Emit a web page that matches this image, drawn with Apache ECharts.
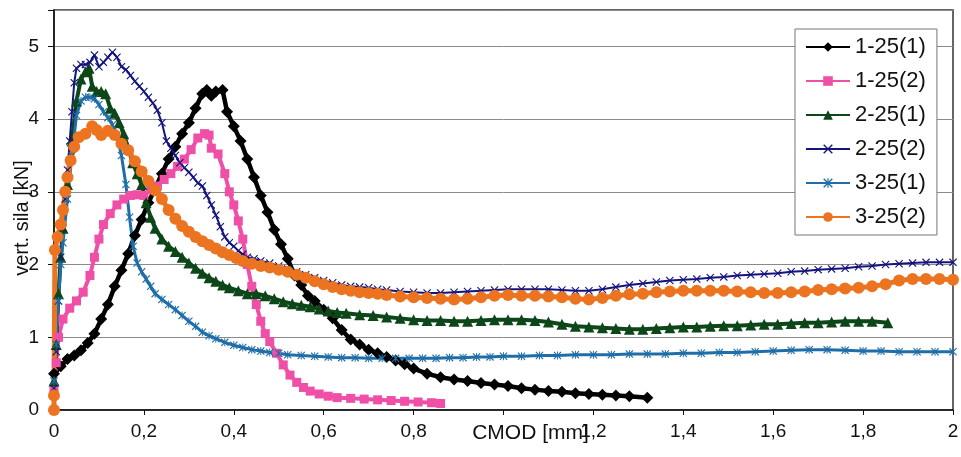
<!DOCTYPE html>
<html>
<head>
<meta charset="UTF-8">
<title>CMOD - vert. sila</title>
<script src="https://cdn.jsdelivr.net/npm/echarts@6/dist/echarts.min.js"></script>
<style>
  html, body, #chart { width: 100%; height: 100%; margin: 0; padding: 0; background: #fff; }
  body { overflow: hidden; }
</style>
</head>
<body>
<div id="chart"></div>
<script>
// series names (legend)
const seriesNames = ['1-25(1)', '1-25(2)', '2-25(1)', '2-25(2)', '3-25(1)', '3-25(2)'];

// [CMOD mm, force kN]
const s1_25_1 = [[0,0.5],[0.015,0.6],[0.03,0.7],[0.045,0.75],[0.06,0.82],[0.075,0.92],[0.09,1.05],[0.105,1.25],[0.12,1.45],[0.135,1.7],[0.15,1.92],[0.165,2.15],[0.18,2.4],[0.195,2.62],[0.21,2.85],[0.225,3.05],[0.24,3.25],[0.255,3.45],[0.27,3.62],[0.285,3.8],[0.3,3.95],[0.315,4.15],[0.33,4.35],[0.34,4.4],[0.35,4.32],[0.36,4.38],[0.375,4.4],[0.385,4.1],[0.4,3.9],[0.415,3.7],[0.43,3.45],[0.445,3.2],[0.46,2.95],[0.475,2.72],[0.49,2.48],[0.505,2.28],[0.52,2.08],[0.535,1.85],[0.55,1.72],[0.565,1.57],[0.58,1.5],[0.6,1.38],[0.62,1.26],[0.64,1.1],[0.66,0.97],[0.68,0.9],[0.7,0.83],[0.72,0.78],[0.74,0.73],[0.76,0.68],[0.78,0.63],[0.8,0.57],[0.83,0.5],[0.86,0.45],[0.89,0.42],[0.92,0.4],[0.95,0.37],[0.98,0.35],[1.01,0.33],[1.04,0.3],[1.07,0.28],[1.1,0.26],[1.13,0.25],[1.16,0.23],[1.19,0.22],[1.22,0.21],[1.25,0.2],[1.28,0.19],[1.32,0.17]];

const s1_25_2 = [[0,0.3],[0.005,0.65],[0.01,1.0],[0.02,1.25],[0.035,1.4],[0.05,1.5],[0.065,1.62],[0.08,1.85],[0.09,2.1],[0.1,2.35],[0.11,2.55],[0.125,2.7],[0.14,2.82],[0.155,2.9],[0.17,2.95],[0.185,2.96],[0.2,2.95],[0.215,3.03],[0.23,3.08],[0.245,3.17],[0.26,3.25],[0.275,3.35],[0.29,3.45],[0.305,3.58],[0.32,3.74],[0.335,3.8],[0.345,3.78],[0.35,3.6],[0.365,3.52],[0.38,3.25],[0.39,3.0],[0.4,2.82],[0.41,2.6],[0.42,2.35],[0.43,2.0],[0.44,1.7],[0.45,1.45],[0.46,1.22],[0.47,1.05],[0.48,0.94],[0.495,0.78],[0.51,0.62],[0.525,0.48],[0.54,0.38],[0.555,0.31],[0.57,0.26],[0.59,0.22],[0.61,0.19],[0.63,0.17],[0.66,0.16],[0.69,0.15],[0.72,0.14],[0.75,0.13],[0.78,0.12],[0.81,0.11],[0.84,0.1],[0.86,0.09]];

const s2_25_1 = [[0,0.4],[0.005,0.9],[0.01,1.6],[0.015,2.1],[0.02,2.5],[0.03,3.1],[0.04,3.7],[0.05,4.25],[0.06,4.55],[0.07,4.65],[0.078,4.7],[0.085,4.45],[0.095,4.38],[0.105,4.38],[0.115,4.35],[0.125,4.15],[0.135,4.08],[0.145,3.95],[0.155,3.8],[0.165,3.6],[0.175,3.4],[0.185,3.25],[0.195,3.1],[0.205,2.85],[0.215,2.65],[0.225,2.5],[0.24,2.35],[0.255,2.25],[0.27,2.18],[0.285,2.1],[0.3,2.02],[0.315,1.95],[0.33,1.88],[0.345,1.82],[0.36,1.77],[0.375,1.72],[0.39,1.68],[0.41,1.64],[0.43,1.6],[0.45,1.6],[0.47,1.57],[0.49,1.53],[0.51,1.49],[0.53,1.46],[0.55,1.44],[0.57,1.42],[0.59,1.39],[0.61,1.36],[0.63,1.34],[0.65,1.33],[0.68,1.31],[0.71,1.3],[0.74,1.28],[0.77,1.26],[0.8,1.24],[0.83,1.23],[0.86,1.23],[0.89,1.22],[0.92,1.22],[0.95,1.23],[0.98,1.24],[1.01,1.24],[1.04,1.24],[1.07,1.23],[1.1,1.21],[1.13,1.18],[1.16,1.15],[1.19,1.14],[1.22,1.13],[1.25,1.12],[1.28,1.11],[1.31,1.11],[1.34,1.12],[1.37,1.13],[1.4,1.14],[1.43,1.14],[1.46,1.15],[1.49,1.16],[1.52,1.16],[1.55,1.17],[1.58,1.18],[1.61,1.18],[1.64,1.19],[1.67,1.2],[1.7,1.2],[1.73,1.21],[1.76,1.22],[1.79,1.22],[1.82,1.22],[1.855,1.2]];

const s2_25_2 = [[0,0.3],[0.005,0.8],[0.01,1.5],[0.015,2.1],[0.02,2.5],[0.025,2.9],[0.03,3.3],[0.035,3.7],[0.04,4.1],[0.045,4.5],[0.05,4.7],[0.06,4.75],[0.07,4.75],[0.08,4.78],[0.09,4.88],[0.1,4.72],[0.11,4.78],[0.12,4.85],[0.13,4.92],[0.14,4.85],[0.15,4.72],[0.16,4.68],[0.17,4.6],[0.18,4.52],[0.19,4.45],[0.2,4.38],[0.21,4.3],[0.22,4.22],[0.23,4.12],[0.24,3.95],[0.25,3.7],[0.26,3.6],[0.27,3.5],[0.28,3.4],[0.29,3.33],[0.3,3.27],[0.31,3.2],[0.32,3.12],[0.33,3.08],[0.34,2.95],[0.35,2.82],[0.36,2.68],[0.37,2.52],[0.38,2.38],[0.39,2.3],[0.4,2.25],[0.41,2.19],[0.42,2.14],[0.43,2.1],[0.445,2.08],[0.46,2.05],[0.48,2.02],[0.5,1.98],[0.52,1.94],[0.54,1.9],[0.56,1.86],[0.58,1.82],[0.6,1.78],[0.62,1.75],[0.64,1.72],[0.66,1.7],[0.68,1.69],[0.7,1.68],[0.72,1.66],[0.74,1.65],[0.77,1.63],[0.8,1.62],[0.83,1.61],[0.86,1.61],[0.89,1.62],[0.92,1.63],[0.95,1.64],[0.98,1.65],[1.01,1.66],[1.04,1.66],[1.07,1.66],[1.1,1.66],[1.13,1.65],[1.16,1.64],[1.19,1.64],[1.22,1.66],[1.25,1.69],[1.28,1.72],[1.31,1.74],[1.34,1.76],[1.37,1.78],[1.4,1.79],[1.43,1.8],[1.46,1.82],[1.49,1.83],[1.52,1.85],[1.55,1.86],[1.58,1.87],[1.61,1.88],[1.64,1.9],[1.67,1.91],[1.7,1.93],[1.73,1.94],[1.76,1.95],[1.79,1.97],[1.82,1.98],[1.85,2.0],[1.88,2.01],[1.91,2.02],[1.94,2.03],[1.97,2.03],[2.0,2.03]];

const s3_25_1 = [[0,0.4],[0.005,0.9],[0.01,1.5],[0.015,2.0],[0.02,2.3],[0.03,2.9],[0.04,3.5],[0.05,4.05],[0.06,4.25],[0.07,4.3],[0.08,4.3],[0.09,4.28],[0.1,4.2],[0.11,4.1],[0.12,4.02],[0.13,3.92],[0.14,3.78],[0.15,3.5],[0.16,3.1],[0.168,2.65],[0.176,2.25],[0.185,2.02],[0.195,1.9],[0.205,1.8],[0.215,1.7],[0.225,1.6],[0.24,1.52],[0.255,1.45],[0.27,1.38],[0.285,1.3],[0.3,1.22],[0.315,1.15],[0.33,1.07],[0.345,1.02],[0.36,0.98],[0.38,0.93],[0.4,0.89],[0.42,0.86],[0.44,0.83],[0.46,0.81],[0.48,0.79],[0.5,0.78],[0.52,0.76],[0.55,0.75],[0.58,0.74],[0.61,0.73],[0.64,0.72],[0.67,0.72],[0.7,0.71],[0.73,0.71],[0.76,0.71],[0.79,0.71],[0.82,0.71],[0.85,0.71],[0.88,0.72],[0.91,0.72],[0.94,0.73],[0.97,0.73],[1.0,0.74],[1.04,0.74],[1.08,0.75],[1.12,0.75],[1.16,0.76],[1.2,0.76],[1.24,0.76],[1.28,0.77],[1.32,0.77],[1.36,0.77],[1.4,0.78],[1.44,0.78],[1.48,0.79],[1.52,0.79],[1.56,0.8],[1.6,0.81],[1.64,0.82],[1.68,0.83],[1.72,0.83],[1.76,0.82],[1.8,0.81],[1.84,0.81],[1.88,0.8],[1.92,0.8],[1.96,0.8],[2.0,0.8]];

const s3_25_2 = [[0,0],[0,0.2],[0.002,2.2],[0.008,2.38],[0.015,2.55],[0.02,2.75],[0.025,3.0],[0.03,3.2],[0.037,3.43],[0.045,3.62],[0.055,3.75],[0.07,3.8],[0.085,3.9],[0.095,3.85],[0.105,3.78],[0.12,3.84],[0.135,3.78],[0.15,3.66],[0.165,3.57],[0.18,3.42],[0.195,3.28],[0.21,3.15],[0.225,3.02],[0.24,2.9],[0.255,2.75],[0.27,2.63],[0.285,2.53],[0.3,2.45],[0.315,2.38],[0.33,2.32],[0.345,2.27],[0.36,2.22],[0.375,2.17],[0.39,2.13],[0.405,2.09],[0.42,2.05],[0.44,2.01],[0.46,1.98],[0.48,1.96],[0.5,1.93],[0.52,1.9],[0.54,1.86],[0.56,1.82],[0.58,1.77],[0.6,1.73],[0.62,1.69],[0.64,1.66],[0.66,1.64],[0.68,1.62],[0.7,1.61],[0.72,1.6],[0.74,1.58],[0.77,1.56],[0.8,1.55],[0.83,1.54],[0.86,1.53],[0.89,1.52],[0.92,1.53],[0.95,1.55],[0.98,1.57],[1.01,1.58],[1.04,1.57],[1.07,1.57],[1.1,1.56],[1.13,1.55],[1.16,1.53],[1.19,1.52],[1.22,1.54],[1.25,1.57],[1.28,1.59],[1.31,1.6],[1.34,1.62],[1.37,1.63],[1.4,1.64],[1.43,1.64],[1.46,1.64],[1.49,1.64],[1.52,1.63],[1.55,1.62],[1.58,1.61],[1.61,1.61],[1.64,1.62],[1.67,1.63],[1.7,1.65],[1.73,1.66],[1.76,1.67],[1.79,1.68],[1.82,1.7],[1.85,1.73],[1.88,1.78],[1.91,1.8],[1.94,1.8],[1.97,1.8],[2.0,1.79]];

const seriesData = [s1_25_1, s1_25_2, s2_25_1, s2_25_2, s3_25_1, s3_25_2];

// Excel-like marker look
const colors = ['#000000', '#ef4fa6', '#0d4719', '#14147e', '#1f6ea8', '#ec7420'];
const xMark = 'path://M0 1L1 0L5 4L9 0L10 1L6 5L10 9L9 10L5 6L1 10L0 9L4 5Z';
const starMark = 'path://M0 1L1 0L5 4L9 0L10 1L6 5L10 9L9 10L5 6L1 10L0 9L4 5ZM4.4 0L5.6 0L5.6 10L4.4 10Z';
const symbols = ['diamond', 'rect', 'triangle', xMark, starMark, 'circle'];
const symbolSizes = [12, 9, 11, 8, 8, 12];
const lineWidths = [4.5, 4, 4, 2, 3, 5];

const font = 'Liberation Sans, Arial, sans-serif';

var chart = echarts.init(document.getElementById('chart'));

var option = {
    animation: false,
    backgroundColor: '#fff',
    grid: {
        left: 54, right: 8, top: 10, bottom: 47,
        outerBoundsMode: 'none',
        show: true, borderColor: '#333', borderWidth: 1.5, backgroundColor: '#fff'
    },
    legend: {
        orient: 'vertical',
        left: 795, top: 29,
        padding: [7, 11, 7, 10],
        itemGap: 12,
        itemWidth: 44,
        itemHeight: 12,
        backgroundColor: '#fff',
        borderColor: '#777',
        borderWidth: 1,
        textStyle: { fontFamily: font, fontSize: 22, color: '#111' },
        data: seriesNames
    },
    xAxis: {
        type: 'value',
        min: 0, max: 2, interval: 0.2,
        name: '{a|CMOD [mm]}',
        nameLocation: 'middle',
        nameGap: 13,
        nameMoveOverlap: false,
        nameTextStyle: {
            padding: [0, 0, 0, 54],
            rich: { a: { fontFamily: font, fontSize: 21, color: '#111', backgroundColor: '#fff' } }
        },
        axisLine: { lineStyle: { color: '#111', width: 1.5 } },
        axisTick: { show: true, length: 5, lineStyle: { color: '#111' } },
        axisLabel: {
            margin: 12,
            fontFamily: font, fontSize: 19, color: '#111',
            // the "1" label sits under the axis title in the original
            formatter: v => v === 1 ? '' : String(+v.toFixed(1)).replace('.', ',')
        },
        splitLine: { show: false }
    },
    yAxis: {
        type: 'value',
        min: 0, max: 5.5, interval: 1,
        name: 'vert. sila [kN]',
        nameLocation: 'middle',
        nameGap: 22,
        nameMoveOverlap: false,
        nameTextStyle: { fontFamily: font, fontSize: 20, color: '#111', padding: [0, 16, 0, 0] },
        axisLine: { lineStyle: { color: '#111', width: 1.5 } },
        axisTick: { show: true, length: 6, lineStyle: { color: '#111' } },
        axisLabel: {
            margin: 15,
            fontFamily: font, fontSize: 19, color: '#111',
            formatter: v => Number.isInteger(v) ? String(v) : ''
        },
        splitLine: { show: true, lineStyle: { color: '#8a8a8a', width: 1 } }
    },
    series: seriesNames.map((name, i) => ({
        name: name,
        type: 'line',
        data: seriesData[i],
        symbol: symbols[i],
        symbolSize: symbolSizes[i],
        showAllSymbol: true,
        lineStyle: { color: colors[i], width: lineWidths[i] },
        itemStyle: { color: colors[i], borderWidth: 0 }
    }))
};

chart.setOption(option);
window.addEventListener('resize', function () {
    chart.resize();
});
</script>
</body>
</html>
